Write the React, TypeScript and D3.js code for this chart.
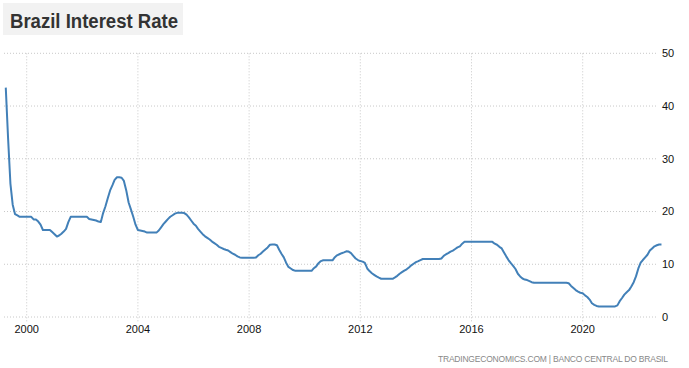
import React from "react";
import * as d3 from "d3";

// Monthly (month-end) policy rate, %, March 1999 .. October 2022
const firstMonth = [1999, 3];
const rates1999 = [43.5, 34, 25.3, 21.3, 19.5, 19.25, 19, 19, 19, 19];
const rates2000 = [19, 19, 18.5, 18.5, 18.1, 17.5, 16.5, 16.5, 16.5, 16.5, 16.1, 15.7];
const rates2001 = [15.25, 15.45, 15.8, 16.2, 16.7, 18.0, 19, 19, 19, 19, 19, 19];
const rates2002 = [19, 19, 18.6, 18.5, 18.4, 18.3, 18.1, 18.0, 19.7, 21.0, 22.5, 24.0];
const rates2003 = [25.0, 26.0, 26.5, 26.5, 26.4, 25.8, 24.0, 21.7, 20.4, 19.0, 17.5, 16.5];
const rates2004 = [16.4, 16.3, 16.2, 16.0, 16.0, 16.0, 16.0, 16.0, 16.4, 17.0, 17.6, 18.1];
const rates2005 = [18.6, 19.0, 19.3, 19.6, 19.75, 19.75, 19.75, 19.7, 19.4, 18.9, 18.3, 17.7];
const rates2006 = [17.3, 16.7, 16.2, 15.7, 15.3, 15.0, 14.7, 14.3, 14.0, 13.7, 13.3, 13.1];
const rates2007 = [12.9, 12.75, 12.6, 12.3, 12.0, 11.8, 11.5, 11.3, 11.25, 11.25, 11.25, 11.25];
const rates2008 = [11.25, 11.25, 11.3, 11.7, 12.0, 12.4, 12.8, 13.2, 13.7, 13.75, 13.75, 13.6];
const rates2009 = [12.7, 12.0, 11.3, 10.3, 9.5, 9.2, 8.9, 8.75, 8.75, 8.75, 8.75, 8.75];
const rates2010 = [8.75, 8.75, 8.75, 9.25, 9.6, 10.2, 10.6, 10.75, 10.75, 10.75, 10.75, 10.75];
const rates2011 = [11.35, 11.7, 11.9, 12.1, 12.25, 12.45, 12.4, 12.1, 11.6, 11.1, 10.8, 10.6];
const rates2012 = [10.5, 10.25, 9.2, 8.7, 8.3, 8.0, 7.7, 7.45, 7.25, 7.25, 7.25, 7.25];
const rates2013 = [7.25, 7.25, 7.5, 7.8, 8.2, 8.5, 8.8, 9.05, 9.4, 9.8, 10.1, 10.4];
const rates2014 = [10.6, 10.8, 11.0, 11, 11, 11, 11, 11, 11, 11, 11.1, 11.6];
const rates2015 = [11.9, 12.1, 12.4, 12.6, 12.9, 13.2, 13.4, 13.9, 14.25, 14.25, 14.25, 14.25];
const rates2016 = [14.25, 14.25, 14.25, 14.25, 14.25, 14.25, 14.25, 14.25, 14.25, 13.9, 13.7, 13.3];
const rates2017 = [13.0, 12.3, 11.5, 10.8, 10.2, 9.7, 9.1, 8.2, 7.7, 7.3, 7.1, 7.0];
const rates2018 = [6.8, 6.6, 6.5, 6.5, 6.5, 6.5, 6.5, 6.5, 6.5, 6.5, 6.5, 6.5];
const rates2019 = [6.5, 6.5, 6.5, 6.5, 6.5, 6.4, 5.9, 5.5, 5.1, 4.8, 4.6, 4.5];
const rates2020 = [4.1, 3.8, 3.3, 2.6, 2.3, 2.1, 2, 2, 2, 2, 2, 2];
const rates2021 = [2, 2, 2.2, 3.0, 3.6, 4.25, 4.7, 5.1, 5.8, 6.6, 7.7, 9.2];
const rates2022 = [10.3, 10.8, 11.3, 11.8, 12.6, 13.0, 13.4, 13.6, 13.75, 13.75];

const xTickYears = [2000, 2004, 2008, 2012, 2016, 2020];
const yTicks = [0, 10, 20, 30, 40, 50];
const title = "Brazil Interest Rate";
const source = "TRADINGECONOMICS.COM  |  BANCO CENTRAL DO BRASIL";

const rates = [
  ...rates1999, ...rates2000, ...rates2001, ...rates2002, ...rates2003, ...rates2004,
  ...rates2005, ...rates2006, ...rates2007, ...rates2008, ...rates2009, ...rates2010,
  ...rates2011, ...rates2012, ...rates2013, ...rates2014, ...rates2015, ...rates2016,
  ...rates2017, ...rates2018, ...rates2019, ...rates2020, ...rates2021, ...rates2022,
];

// each value dated at the end of its month (= first day of following month)
const data = rates.map((v, i) => ({
  date: d3.timeMonth.offset(new Date(firstMonth[0], firstMonth[1], 1), i),
  value: v,
}));

export default function App() {
  const W = 689;
  const H = 368;
  const x = d3
    .scaleTime()
    .domain([new Date(2000, 0, 1), new Date(2020, 0, 1)])
    .range([26.7, 582.7]);
  const y = d3.scaleLinear().domain([0, 50]).range([317, 53.3]);
  const line = d3
    .line<{ date: Date; value: number }>()
    .x((d) => x(d.date))
    .y((d) => y(d.value))
    .curve(d3.curveLinear);

  const gridLeft = 4;
  const gridRight = 658;

  return (
    <svg
      width={W}
      height={H}
      style={{ position: "absolute", left: 0, top: 0, background: "#fff" }}
      fontFamily="'Liberation Sans', Arial, sans-serif"
    >
      <rect x={3} y={3} width={180} height={32} fill="#f2f2f2" />
      <text
        x={10}
        y={28}
        fontSize={20}
        fontWeight="bold"
        fill="#333"
        textLength={168}
        lengthAdjust="spacingAndGlyphs"
      >
        {title}
      </text>

      {yTicks.map((t) => (
        <line
          key={"h" + t}
          x1={gridLeft}
          x2={gridRight}
          y1={y(t)}
          y2={y(t)}
          stroke="#c8c8c8"
          strokeWidth={1}
          strokeDasharray="1,2"
        />
      ))}
      {xTickYears.map((yr) => (
        <line
          key={"v" + yr}
          x1={x(new Date(yr, 0, 1))}
          x2={x(new Date(yr, 0, 1))}
          y1={y(50)}
          y2={322}
          stroke="#c8c8c8"
          strokeWidth={1}
          strokeDasharray="1,2"
        />
      ))}

      {yTicks.map((t) => (
        <text key={"yl" + t} x={662} y={y(t)} dy="0.35em" fontSize={11} fill="#111">
          {t}
        </text>
      ))}
      {xTickYears.map((yr) => (
        <text
          key={"xl" + yr}
          x={x(new Date(yr, 0, 1))}
          y={333}
          fontSize={11}
          fill="#111"
          textAnchor="middle"
        >
          {yr}
        </text>
      ))}

      <path
        d={line(data) || ""}
        fill="none"
        stroke="#4280b8"
        strokeWidth={2}
        strokeLinejoin="round"
      />

      <text
        x={668}
        y={362}
        fontSize={8.5}
        fill="#888"
        textAnchor="end"
        textLength={230}
        lengthAdjust="spacing"
      >
        {source}
      </text>
    </svg>
  );
}
